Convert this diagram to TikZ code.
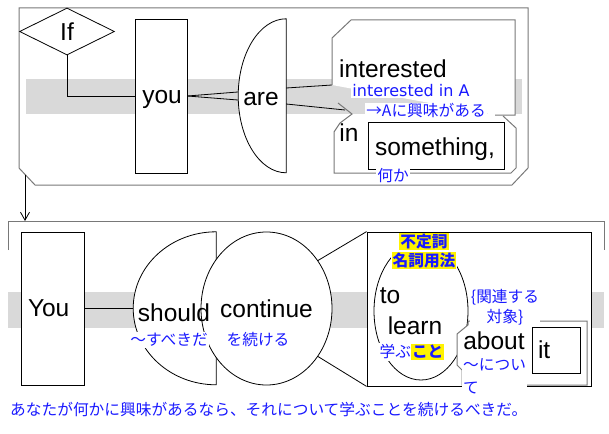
\documentclass[tikz,border=0pt]{standalone}
\usepackage{fontspec}
\setmainfont{Liberation Sans}
\newfontfamily\jpfont{Noto Sans CJK JP}
\newfontfamily\glatin{DejaVu Sans}
\usepackage{xcolor}
\usetikzlibrary{shapes.geometric, arrows.meta, positioning}
\definecolor{bandgray}{RGB}{217,217,217}
\definecolor{framegray}{RGB}{120,120,120}
\definecolor{glossblue}{RGB}{25,25,255}
\newcommand{\wordsize}{\fontsize{24.5pt}{28pt}\selectfont}
\newcommand{\glosssize}{\fontsize{15.7pt}{20pt}\selectfont}
\newcommand{\yel}[1]{{\setlength{\fboxsep}{1pt}\colorbox{yellow}{\bfseries #1}}}
\tikzstyle{clauseframe} = [draw=framegray, line width=1pt]
\tikzstyle{wordbox} = [rectangle, draw=black, fill=white, line width=0.8pt, inner sep=0pt, font=\wordsize]
\tikzstyle{word}    = [inner sep=0pt, font=\wordsize]
\tikzstyle{holder}  = [rectangle, inner sep=0pt]
\tikzstyle{gloss}   = [inner sep=1pt, fill=white, text=glossblue, font=\jpfont\glosssize, align=center]
\tikzstyle{link}    = [line width=0.8pt]

\begin{document}
\begin{tikzpicture}[x=1pt, y=-1pt]
  \useasboundingbox (0,0) rectangle (609,433);
  \draw [clauseframe] (19,8) -- (528,8) -- (528,168) -- (512,185) -- (35,185) -- (19,168) -- cycle;
  \fill [bandgray] (26,79) rectangle (522,114);
  \node (if) [diamond, draw, fill=white, line width=0.8pt, minimum width=95pt, minimum height=47pt, inner sep=0pt, font=\wordsize] at (67,31.5) {If};
  \node (topyou) [wordbox, minimum width=52pt, minimum height=154pt] at (161,96) {};
  \draw [link] (if.south) |- (topyou.west);
  \node (areshp) [holder, minimum width=48pt, minimum height=154pt] at (262,96) {};
  \draw [link, fill=white] (areshp.north east) arc[start angle=90, end angle=270, x radius=48pt, y radius=77pt] -- cycle;
  \draw [link] (topyou.east) -- ([yshift=4pt]areshp.west);
  \draw [link] (topyou.east) -- ([yshift=-4pt]areshp.west);
  \coordinate (intfoot) at (332,85);
  \coordinate (inhook) at (345,110);
  \draw [link] ([yshift=8pt]areshp.east) -- (intfoot);
  \draw [link] ([yshift=-8pt]areshp.east) -- (inhook);
  \draw [clauseframe, fill=white] (intfoot) -- (332,38) -- (351,20) -- (515,20) -- (515,115) -- (495,115);
  \draw [clauseframe] (338,103) -- (352,114) -- (340,123) -- (334,132) -- (334,173) -- (511,173) -- (516,168) -- (516,128) -- (503,116);
  \node (somebox) [wordbox, minimum width=136pt, minimum height=47pt] at (436,145.5) {};
  \node (you) [word] at (162,99) {you};
  \node (are) [word] at (261,99) {are};
  \node (interested) [word] at (393,69) {interested};
  \node (in) [word] at (349,133) {in};
  \node (something) [word] at (435,149) {something,};
  \node (gint) [gloss, font=\glatin\fontsize{16pt}{20pt}\selectfont] at (411,91) {interested in A};
  \node (gint2) [gloss] at (426,111) {→Aに興味がある};
  \node (gsome) [gloss] at (393,176) {何か};

  \coordinate (drop) at (25,174.5);
  \coordinate (land) at (25,221);
  \draw [link, -{Straight Barb[length=8pt, width=9pt]}] (drop) -- (land);
  \draw [clauseframe] (8,250) -- (8,221) -- (604,221) -- (604,250);
  \fill [bandgray] (8,292) rectangle (604,328);
  \node (lowyou) [wordbox, minimum height=153pt, text width=49pt, inner xsep=7pt, align=left] at (52.5,308.5) {You};
  \node (shdshp) [holder, minimum width=83pt, minimum height=153pt] at (174.5,308.5) {};
  \draw [link, fill=white] (shdshp.north east) arc[start angle=90, end angle=270, x radius=83pt, y radius=76.5pt] -- cycle;
  \draw [link] (lowyou.east) -- (shdshp.west);
  \node (continue) [ellipse, draw, fill=white, line width=0.8pt, minimum width=103pt, minimum height=153pt, inner sep=0pt, font=\wordsize] at (266.5,308.5) {continue};
  \node (tobox) [rectangle, draw, fill=white, line width=0.8pt, minimum width=224pt, minimum height=154pt] at (479,309) {};
  \draw [link] (continue.43) -- (tobox.north west);
  \draw [link] (continue.-43) -- (tobox.south west);
  \node (learnov) [ellipse, draw, line width=0.8pt, minimum width=94pt, minimum height=138pt, inner sep=0pt] at (421,311) {};
  \draw [clauseframe, fill=white] (462,385) -- (462,370) -- (457,365) -- (457,334) -- (468,325) -- (468,321) -- (587,321) -- (587,385) -- cycle;
  \node (it) [wordbox, minimum height=46pt, text width=36pt, inner xsep=6pt, align=left] at (556,350) {it};
  \node (should) [word] at (174,313) {should};
  \node (to) [word] at (390,296) {to};
  \node (learn) [word] at (415,326) {learn};
  \node (about) [word] at (494,341) {about};
  \node (gshould) [gloss] at (169,340) {～すべきだ};
  \node (gcont) [gloss] at (258,340) {を続ける};
  \node (gkoto) [gloss] at (412,352) {学ぶ\yel{こと}};
  \node (gnoun) [gloss, inner sep=0.5pt] at (424,251) {\yel{不定詞}\\[-1pt]\yel{名詞用法}};
  \node (grel) [gloss] at (505,307) {\{関連する\\対象\}};
  \node (gabout) [gloss, align=left, anchor=west, font=\jpfont\fontsize{15.7pt}{23pt}\selectfont] at (462,376.5) {～につい\\て};
  \node (summary) [gloss, fill=none, anchor=west] at (9,409) {あなたが何かに興味があるなら、それについて学ぶことを続けるべきだ。};
\end{tikzpicture}
\end{document}
